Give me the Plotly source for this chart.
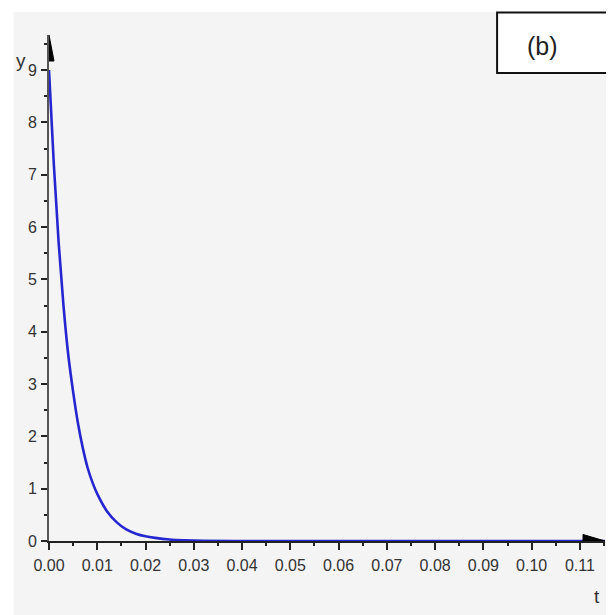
import plotly.graph_objects as go

# data
t_vals = [0.0, 0.001, 0.002, 0.003, 0.004, 0.005, 0.006, 0.007, 0.008, 0.009,
          0.010, 0.012, 0.014, 0.016, 0.018, 0.020, 0.022, 0.025, 0.028, 0.032,
          0.040, 0.050, 0.060, 0.070, 0.080, 0.090, 0.100, 0.110, 0.1152]
y_vals = [9.0, 7.2, 5.7, 4.5, 3.55, 2.85, 2.25, 1.78, 1.40, 1.12,
          0.90, 0.57, 0.36, 0.22, 0.14, 0.09, 0.06, 0.03, 0.015, 0.005,
          0.0, 0.0, 0.0, 0.0, 0.0, 0.0, 0.0, 0.0, 0.0]
x_ticks = [0.00, 0.01, 0.02, 0.03, 0.04, 0.05, 0.06, 0.07, 0.08, 0.09, 0.10, 0.11]
x_tick_labels = ["0.00", "0.01", "0.02", "0.03", "0.04", "0.05", "0.06",
                 "0.07", "0.08", "0.09", "0.10", "0.11"]
y_ticks = [0, 1, 2, 3, 4, 5, 6, 7, 8, 9]
y_tick_labels = ["0", "1", "2", "3", "4", "5", "6", "7", "8", "9"]
panel_label = "(b)"
x_title = "t"
y_title = "y"

X_MAX = 0.1152
Y_MAX = 9.67

# page has an 8px body margin; figure is sized to fill the rest of the window
OFF = 8
W, H = 614 - OFF, 615 - OFF
L, R, T, B = 48.5 - OFF, 9, 35 - OFF, 615 - 541.5
PW, PH = W - L - R, H - T - B


def px(xp):
    """page x pixel -> paper x"""
    return (xp - OFF - L) / PW


def py(yp):
    """page y pixel -> paper y"""
    return (H - B - (yp - OFF)) / PH


FONT = "Liberation Sans, Arial, sans-serif"
TICKFONT = dict(family=FONT, size=16, color="#333333")
AX_COLOR = "#222222"

fig = go.Figure()
fig.add_trace(go.Scatter(
    x=t_vals, y=y_vals, mode="lines", line=dict(color="#2626d0", width=2.6, shape="spline"),
    hoverinfo="skip", showlegend=False, cliponaxis=False,
))

common_x = dict(range=[0, X_MAX], showgrid=False, zeroline=False, fixedrange=True)
common_y = dict(range=[0, Y_MAX], showgrid=False, zeroline=False, fixedrange=True)

fig.update_layout(
    width=W, height=H,
    margin=dict(l=L, r=R, t=T, b=B, pad=0),
    paper_bgcolor="#f4f4f4", plot_bgcolor="rgba(0,0,0,0)",
    xaxis=dict(**common_x, tickmode="array", tickvals=x_ticks, ticktext=x_tick_labels,
               ticks="outside", ticklen=7, tickwidth=1.5, tickcolor=AX_COLOR,
               showline=True, linecolor=AX_COLOR, linewidth=2, tickfont=TICKFONT,
               ticklabelstandoff=2,
               minor=dict(ticks="outside", dtick=0.005, tick0=0, ticklen=3, tickcolor=AX_COLOR, tickwidth=1.5)),
    xaxis2=dict(**common_x, overlaying="x", anchor="y", side="bottom",
                tickmode="array", tickvals=x_ticks, showticklabels=False,
                ticks="inside", ticklen=7, tickwidth=1.5, tickcolor=AX_COLOR, showline=False,
                minor=dict(ticks="inside", dtick=0.005, tick0=0, ticklen=3, tickcolor=AX_COLOR, tickwidth=1.5)),
    yaxis=dict(**common_y, tickmode="array", tickvals=y_ticks, ticktext=y_tick_labels,
               ticks="outside", ticklen=6, tickwidth=1.5, tickcolor=AX_COLOR,
               showline=True, linecolor="#555555", linewidth=2, tickfont=TICKFONT,
               ticklabelstandoff=1,
               minor=dict(ticks="outside", dtick=0.5, tick0=0, ticklen=3, tickcolor=AX_COLOR, tickwidth=1.5)),
    yaxis2=dict(**common_y, overlaying="y", anchor="x", side="left",
                tickmode="array", tickvals=y_ticks, showticklabels=False,
                ticks="inside", ticklen=6, tickwidth=1.5, tickcolor=AX_COLOR, showline=False,
                minor=dict(ticks="inside", dtick=0.5, tick0=0, ticklen=3, tickcolor=AX_COLOR, tickwidth=1.5)),
)

# extra white page border at top and left (beyond the 8px body margin)
fig.add_shape(type="rect", xref="paper", yref="paper", x0=px(0), x1=px(13), y0=py(620), y1=py(0),
              fillcolor="white", line=dict(width=0), layer="below")
fig.add_shape(type="rect", xref="paper", yref="paper", x0=px(0), x1=px(620), y0=py(12), y1=py(0),
              fillcolor="white", line=dict(width=0), layer="below")

# axis arrowheads
fig.add_shape(type="path", xref="x", yref="y", xsizemode="pixel", ysizemode="pixel",
              xanchor=X_MAX, yanchor=0, path="M 0 0 L -22 6.5 L -22 -6.5 Z",
              fillcolor="black", line=dict(color="black", width=1))
fig.add_shape(type="path", xref="x", yref="y", xsizemode="pixel", ysizemode="pixel",
              xanchor=0, yanchor=Y_MAX, path="M 0 0 L -5 -26 L 5 -26 Z",
              fillcolor="black", line=dict(color="black", width=1))

# panel label box
fig.add_shape(type="rect", xref="paper", yref="paper", x0=px(497), x1=px(609), y0=py(73), y1=py(12.5),
              fillcolor="white", line=dict(color="#111111", width=2))
fig.add_annotation(text=panel_label, xref="paper", yref="paper", x=px(542), y=py(46),
                   showarrow=False, font=dict(family=FONT, size=25, color="#222222"),
                   xanchor="center", yanchor="middle")

# axis titles
fig.add_annotation(text=y_title, xref="paper", yref="paper", x=px(20), y=py(61),
                   showarrow=False, font=dict(family=FONT, size=19, color="#333333"),
                   xanchor="center", yanchor="middle")
fig.add_annotation(text=x_title, xref="paper", yref="paper", x=px(597), y=py(597),
                   showarrow=False, font=dict(family=FONT, size=19, color="#333333"),
                   xanchor="center", yanchor="middle")

fig.write_html("out.html")
